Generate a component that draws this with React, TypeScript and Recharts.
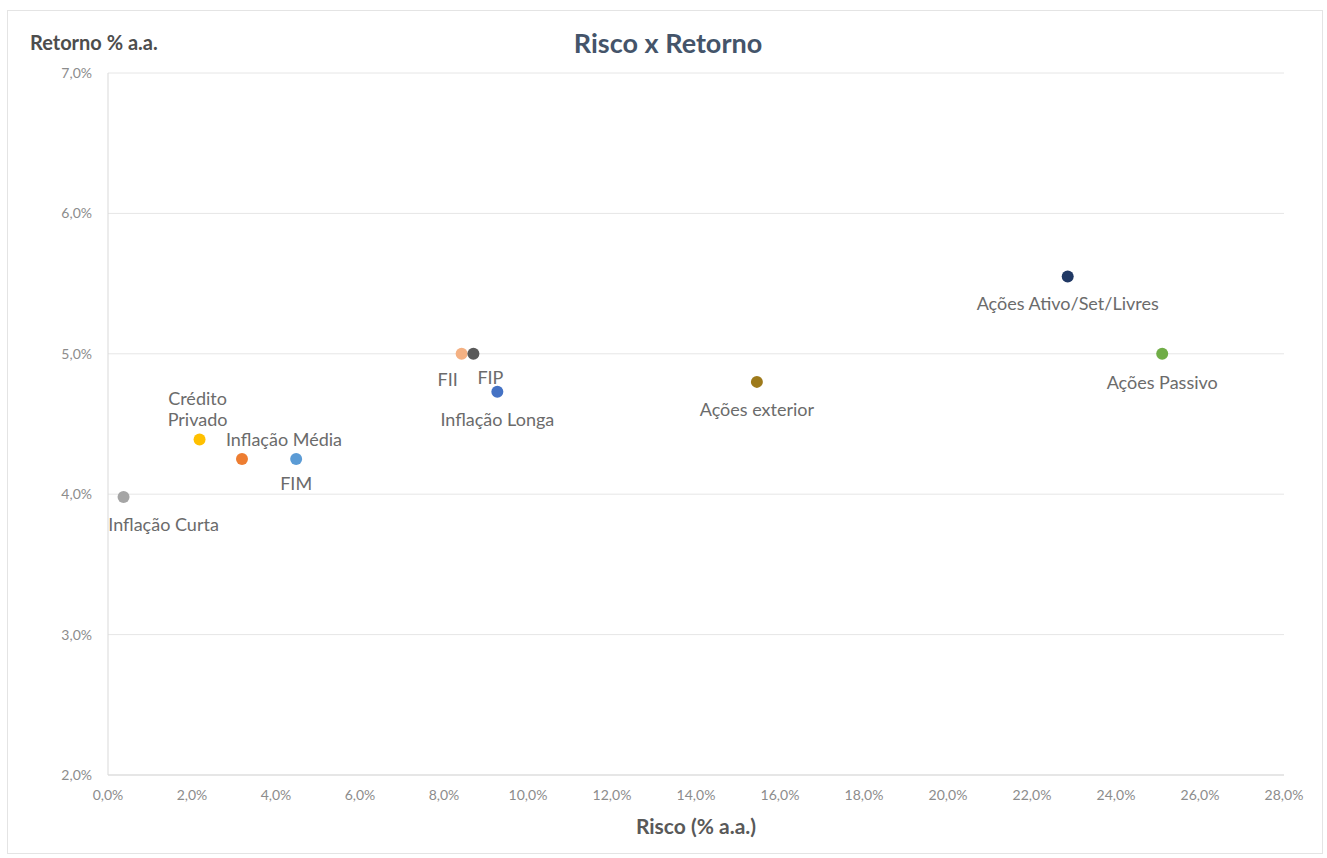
import React from 'react';
import { ScatterChart, Scatter, XAxis, YAxis, CartesianGrid } from 'recharts';

const names = [
  'Inflação Curta',
  'Crédito Privado',
  'Inflação Média',
  'FIM',
  'FII',
  'FIP',
  'Inflação Longa',
  'Ações exterior',
  'Ações Ativo/Set/Livres',
  'Ações Passivo',
];
const risco = [0.37, 2.18, 3.19, 4.48, 8.42, 8.7, 9.27, 15.45, 22.85, 25.1];
const retorno = [3.98, 4.39, 4.25, 4.25, 5.0, 5.0, 4.73, 4.8, 5.55, 5.0];
const xTicks = [0, 2, 4, 6, 8, 10, 12, 14, 16, 18, 20, 22, 24, 26, 28];
const yTicks = [2, 3, 4, 5, 6, 7];

const COLORS = ['#A5A5A5', '#FFC000', '#ED7D31', '#5B9BD5', '#F4B183', '#5A5A5A', '#4472C4', '#9E7A1B', '#203864', '#70AD47'];

// label placement relative to the dot (excel manual positions)
const labelPos = [
  { dx: 40, dy: 27, wrap: false },
  { dx: -2, dy: -41, wrap: true },
  { dx: 42, dy: -20, wrap: false },
  { dx: 0, dy: 24, wrap: false },
  { dx: -14, dy: 25, wrap: false },
  { dx: 17, dy: 23, wrap: false },
  { dx: 0, dy: 27, wrap: false },
  { dx: 0, dy: 27, wrap: false },
  { dx: 0, dy: 26, wrap: false },
  { dx: 0, dy: 28, wrap: false },
];

const FONT = 'Lato, "Open Sans", sans-serif';
const pct = (v: number) => v.toFixed(1).replace('.', ',') + '%';

const makeShape = (i: number) => (props: any) => {
  const { cx, cy } = props;
  const pos = labelPos[i];
  const lines = pos.wrap ? names[i].split(' ') : [names[i]];
  return (
    <g>
      <circle cx={cx} cy={cy} r={6} fill={COLORS[i]} />
      {lines.map((t, k) => (
        <text
          key={k}
          x={cx + pos.dx}
          y={cy + pos.dy + k * 21}
          textAnchor="middle"
          dominantBaseline="central"
          fontSize={18}
          fontFamily={FONT}
          fill="#6B6B6B"
        >
          {t}
        </text>
      ))}
    </g>
  );
};

const App: React.FC = () => {
  return (
    <div style={{ position: 'absolute', left: 0, top: 0, width: 1327, height: 858, background: '#fff', fontFamily: FONT }}>
      <div style={{ position: 'absolute', left: 7, top: 10, width: 1314, height: 842, border: '1px solid #E4E4E4' }} />
      <div style={{ position: 'absolute', left: 0, top: 26, width: 1336, textAlign: 'center', fontSize: 27, lineHeight: '34px', fontWeight: 700, color: '#44546A' }}>
        Risco x Retorno
      </div>
      <div style={{ position: 'absolute', left: 30, top: 30, fontSize: 20, lineHeight: '24px', fontWeight: 700, color: '#4D4D4D' }}>
        Retorno % a.a.
      </div>
      <div style={{ position: 'absolute', left: 108, width: 1176, top: 813, textAlign: 'center', fontSize: 21, lineHeight: '26px', fontWeight: 700, color: '#595959' }}>
        Risco (% a.a.)
      </div>
      <ScatterChart width={1327} height={858} margin={{ top: 73, right: 43, bottom: 53, left: 0 }} style={{ position: 'absolute', left: 0, top: 0 }}>
        <CartesianGrid horizontal vertical={false} stroke="#E6E6E6" />
        <XAxis
          type="number"
          dataKey="x"
          domain={[0, 28]}
          ticks={xTicks}
          tickFormatter={pct}
          height={30}
          tickSize={0}
          tickMargin={15}
          axisLine={{ stroke: '#D9D9D9' }}
          tick={{ fontSize: 14, fill: '#8C8C8C', fontFamily: FONT }}
          allowDataOverflow
        />
        <YAxis
          type="number"
          dataKey="y"
          domain={[2, 7]}
          ticks={yTicks}
          tickFormatter={pct}
          width={108}
          tickSize={0}
          tickMargin={16}
          axisLine={{ stroke: '#D9D9D9' }}
          tick={{ fontSize: 14, fill: '#8C8C8C', fontFamily: FONT }}
          allowDataOverflow
        />
        {names.map((n, i) => (
          <Scatter
            key={n}
            name={n}
            data={[{ x: risco[i], y: retorno[i] }]}
            fill={COLORS[i]}
            shape={makeShape(i)}
            isAnimationActive={false}
          />
        ))}
      </ScatterChart>
    </div>
  );
};

export default App;
